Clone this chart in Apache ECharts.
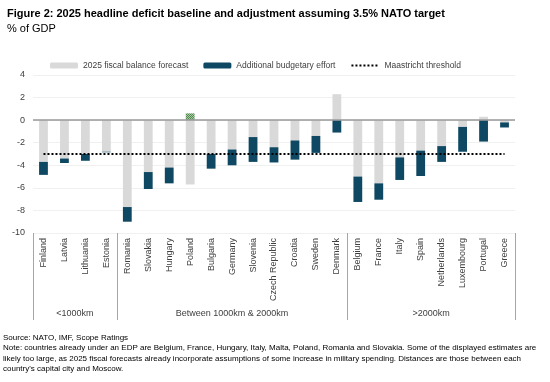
<!DOCTYPE html>
<html><head><meta charset="utf-8">
<script src="https://cdn.jsdelivr.net/npm/echarts@6/dist/echarts.min.js"></script>
<style>html,body{margin:0;padding:0;background:#fff}#c{width:550px;height:382px}</style>
</head><body><div id="c"></div>
<script>
const categories = ['Finland','Latvia','Lithuania','Estonia','Romania','Slovakia','Hungary','Poland','Bulgaria','Germany','Slovenia','Czech Republic','Croatia','Sweden','Denmark','Belgium','France','Italy','Spain','Netherlands','Luxembourg','Portugal','Greece'];
const forecast = [-3.7,-3.4,-3.0,-2.8,-7.7,-4.6,-4.2,-5.7,-3.0,-2.6,-1.5,-2.4,-1.8,-1.4,2.3,-5.0,-5.6,-3.3,-2.7,-2.3,-0.6,0.3,-0.2];
const effort = [-1.15,-0.4,-0.6,-0.05,-1.3,-1.5,-1.4,null,-1.3,-1.4,-2.2,-1.35,-1.7,-1.5,-1.1,-2.25,-1.45,-2.0,-2.25,-1.4,-2.2,-1.9,-0.45];
const surplus = [null,null,null,null,null,null,null,0.6,null,null,null,null,null,null,null,null,null,null,null,null,null,null,null];
const threshold = [-3,-3,-3,-3,-3,-3,-3,-3,-3,-3,-3,-3,-3,-3,-3,-3,-3,-3,-3,-3,-3,-3,-3];
const groups = ['<1000km','Between 1000km & 2000km','>2000km'];
const groupCounts = [4,11,8];
const yTicks = {min:-10, max:4, interval:2};

// Build half-slot axis for group separators / labels
const slots = [];
for (let i = 0; i <= categories.length * 2; i++) slots.push('s' + i);
const boundaries = [0];
const centres = {};
let acc = 0;
groupCounts.forEach((n, g) => {
  centres[acc * 2 + n] = groups[g];
  acc += n;
  boundaries.push(acc * 2);
});
const slotLabels = slots.map((s, i) => centres[i] !== undefined ? centres[i] : '');

// checkered pattern
const pc = document.createElement('canvas');
pc.width = 2; pc.height = 2;
const px = pc.getContext('2d');
px.fillStyle = '#a9c7a3'; px.fillRect(0,0,2,2);
px.fillStyle = '#4f8a4f'; px.fillRect(0,0,1,1); px.fillRect(1,1,1,1);

const FONT = 'Liberation Sans, Arial, sans-serif';
const FOOT = '8px Liberation Sans, Arial, sans-serif';
const chart = echarts.init(document.getElementById('c'), null, {renderer:'canvas'});
chart.setOption({
  animation: false,
  title: [
    {text:'Figure 2: 2025 headline deficit baseline and adjustment assuming 3.5% NATO target', left:2, top:3,
     textStyle:{fontFamily:FONT, fontSize:11, fontWeight:'bold', color:'#000'}},
    {text:'% of GDP', left:2, top:18, textStyle:{fontFamily:FONT, fontSize:11, fontWeight:'normal', color:'#000'}}
  ],
  legend: {
    top: 56, left: 45, itemWidth: 28, itemHeight: 6, itemGap: 15,
    textStyle:{fontFamily:FONT, fontSize:8.5, color:'#404040'},
    data: ['2025 fiscal balance forecast','Additional budgetary effort',
      {name:'Maastricht threshold', itemStyle:{opacity:0}}]
  },
  grid: {left:33, right:35, top:75, bottom:149, containLabel:false},
  xAxis: [
    {type:'category', data:categories, position:'bottom',
     axisLine:{show:false, onZero:false}, axisTick:{show:false},
     axisLabel:{rotate:90, interval:0, margin:5, fontFamily:FONT, fontSize:9, color:'#404040'}},
    {type:'category', data:slotLabels, position:'bottom', boundaryGap:false,
     axisLine:{show:false, onZero:false},
     axisTick:{show:true, length:87, interval:(i)=>boundaries.indexOf(i) >= 0, lineStyle:{color:'#a6a6a6', width:1}},
     axisLabel:{interval:(i)=>centres[i] !== undefined, margin:76, hideOverlap:false, fontFamily:FONT, fontSize:9, color:'#404040',
       formatter:(v)=>v}}
  ],
  yAxis: {type:'value', min:yTicks.min, max:yTicks.max, interval:yTicks.interval,
    axisLine:{show:false}, axisTick:{show:false},
    axisLabel:{margin:8, fontFamily:FONT, fontSize:9, color:'#404040'},
    splitLine:{lineStyle:{color:'#f0f0f0', width:1}}},
  series: [
    {name:'2025 fiscal balance forecast', type:'bar', stack:'a', data:forecast, barWidth:'42%',
     itemStyle:{color:'#d9d9d9'},
     markLine:{silent:true, symbol:'none', label:{show:false}, lineStyle:{color:'#999999', width:1.5, type:'solid'},
       data:[{yAxis:0}]}},
    {name:'Additional budgetary effort', type:'bar', stack:'a', data:effort, barWidth:'42%',
     itemStyle:{color:'#0f4862'}},
    {name:'surplus', type:'bar', stack:'a', data:surplus, barWidth:'42%',
     itemStyle:{color:{image:pc, repeat:'repeat'}}},
    {name:'Maastricht threshold', type:'line', data:threshold, symbol:'none',
     lineStyle:{color:'#000', width:2, type:'dotted'}, itemStyle:{color:'#000'}, z:5}
  ],
  graphic: [
    {type:'text', left:3, top:334, style:{text:'Source: NATO, IMF, Scope Ratings', font:FOOT, fill:'#000'}},
    {type:'text', left:3, top:344, style:{text:'Note: countries already under an EDP are Belgium, France, Hungary, Italy, Malta, Poland, Romania and Slovakia. Some of the displayed estimates are', font:FOOT, fill:'#000'}},
    {type:'text', left:3, top:354.5, style:{text:'likely too large, as 2025 fiscal forecasts already incorporate assumptions of some increase in military spending. Distances are those between each', font:FOOT, fill:'#000'}},
    {type:'text', left:3, top:364.5, style:{text:"country's capital city and Moscow.", font:FOOT, fill:'#000'}}
  ]
});
</script></body></html>
